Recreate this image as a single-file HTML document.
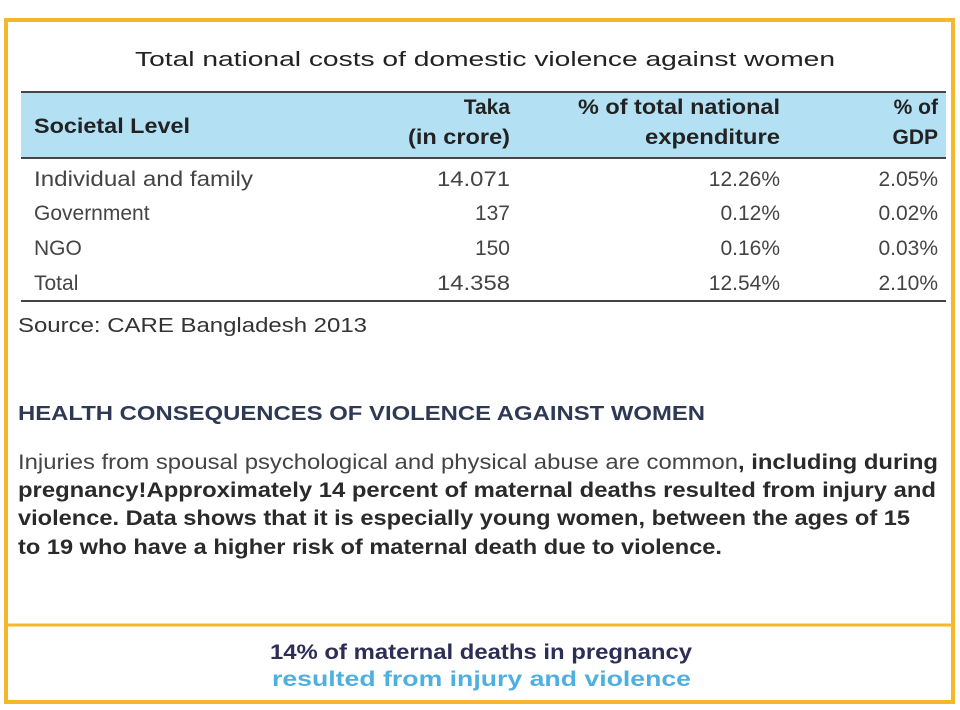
<!DOCTYPE html>
<html><head><meta charset="utf-8"><style>
html,body{margin:0;padding:0;background:#fff;}
svg{display:block;font-family:"Liberation Sans",Arial,sans-serif;}
</style></head><body>
<svg width="960" height="710" viewBox="0 0 960 710">
<rect x="6" y="20" width="947" height="682" fill="#fff" stroke="#f5b82a" stroke-width="4"/>
<line x1="8" y1="625" x2="951" y2="625" stroke="#f5b82a" stroke-width="3"/>

<text x="135" y="66" font-size="20" fill="#222" textLength="700" lengthAdjust="spacingAndGlyphs">Total national costs of domestic violence against women</text>

<g>
<rect x="21" y="92" width="925" height="66" fill="#b3e1f3"/>
<line x1="21" y1="92" x2="946" y2="92" stroke="#444" stroke-width="2"/>
<line x1="21" y1="158" x2="946" y2="158" stroke="#444" stroke-width="2"/>
<line x1="21" y1="301" x2="946" y2="301" stroke="#444" stroke-width="2"/>
<g font-weight="bold" font-size="21" fill="#222">
<text x="34" y="133" textLength="156" lengthAdjust="spacingAndGlyphs">Societal Level</text>
<text x="510" y="114" text-anchor="end">Taka</text>
<text x="408" y="144" textLength="102" lengthAdjust="spacingAndGlyphs">(in crore)</text>
<text x="578" y="114" textLength="202" lengthAdjust="spacingAndGlyphs">% of total national</text>
<text x="645" y="144" textLength="135" lengthAdjust="spacingAndGlyphs">expenditure</text>
<text x="938" y="114" text-anchor="end">% of</text>
<text x="938" y="144" text-anchor="end">GDP</text>
</g>
<g font-size="21" fill="#444">
<text x="34" y="186" textLength="219" lengthAdjust="spacingAndGlyphs">Individual and family</text>
<text x="437" y="186" textLength="73" lengthAdjust="spacingAndGlyphs">14.071</text>
<text x="780" y="186" text-anchor="end">12.26%</text>
<text x="938" y="186" text-anchor="end">2.05%</text>
<text x="34" y="220">Government</text>
<text x="510" y="220" text-anchor="end">137</text>
<text x="780" y="220" text-anchor="end">0.12%</text>
<text x="938" y="220" text-anchor="end">0.02%</text>
<text x="34" y="255">NGO</text>
<text x="510" y="255" text-anchor="end">150</text>
<text x="780" y="255" text-anchor="end">0.16%</text>
<text x="938" y="255" text-anchor="end">0.03%</text>
<text x="34" y="290">Total</text>
<text x="437" y="290" textLength="73" lengthAdjust="spacingAndGlyphs">14.358</text>
<text x="780" y="290" text-anchor="end">12.54%</text>
<text x="938" y="290" text-anchor="end">2.10%</text>
</g>
</g>

<text x="18" y="332" font-size="20" fill="#333" textLength="349" lengthAdjust="spacingAndGlyphs">Source: CARE Bangladesh 2013</text>

<text x="18" y="420" font-size="20" font-weight="bold" fill="#2e3a55" textLength="687" lengthAdjust="spacingAndGlyphs">HEALTH CONSEQUENCES OF VIOLENCE AGAINST WOMEN</text>

<g font-size="21" fill="#2a2a2a">
<text x="18" y="469" fill="#444" textLength="720" lengthAdjust="spacingAndGlyphs">Injuries from spousal psychological and physical abuse are common</text>
<text x="738" y="469" font-weight="bold" textLength="200" lengthAdjust="spacingAndGlyphs">, including during</text>
<text x="18" y="497" font-weight="bold" textLength="918" lengthAdjust="spacingAndGlyphs">pregnancy!Approximately 14 percent of maternal deaths resulted from injury and</text>
<text x="18" y="525" font-weight="bold" textLength="892" lengthAdjust="spacingAndGlyphs">violence. Data shows that it is especially young women, between the ages of 15</text>
<text x="18" y="554" font-weight="bold" textLength="704" lengthAdjust="spacingAndGlyphs">to 19 who have a higher risk of maternal death due to violence.</text>
</g>

<text x="270" y="659" font-size="21" font-weight="bold" fill="#2d2d55" textLength="422" lengthAdjust="spacingAndGlyphs">14% of maternal deaths in pregnancy</text>
<text x="272" y="686" font-size="21" font-weight="bold" fill="#4fb0e0" textLength="419" lengthAdjust="spacingAndGlyphs">resulted from injury and violence</text>
</svg>
</body></html>
